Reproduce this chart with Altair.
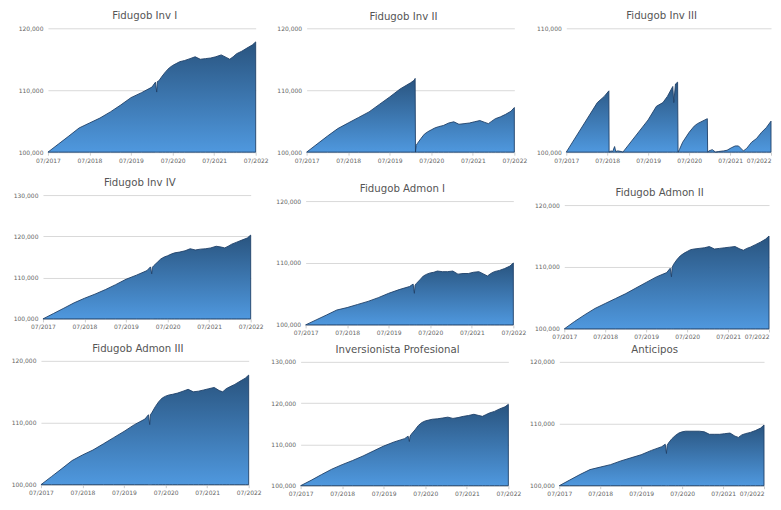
import altair as alt
import pandas as pd

# ---------------- data ----------------
dates_common = [
    "2017-07-01", "2017-10-01", "2018-01-01", "2018-04-01", "2018-07-01", "2018-10-01",
    "2019-01-01", "2019-04-01", "2019-07-01", "2019-10-01", "2020-01-01", "2020-02-01",
    "2020-02-12", "2020-02-18", "2020-03-01", "2020-04-01", "2020-05-01", "2020-06-01",
    "2020-07-01", "2020-08-01", "2020-09-01", "2020-10-15", "2020-12-01", "2021-01-15",
    "2021-03-01", "2021-04-15", "2021-06-01", "2021-07-15", "2021-09-01", "2021-10-15",
    "2021-11-15", "2021-12-15", "2022-01-15", "2022-03-01", "2022-04-15", "2022-06-01",
    "2022-07-01",
]

inv1_values = [100000, 101300, 102600, 103900, 104700, 105500, 106500, 107600, 108800, 109600,
               110500, 111300, 109700, 111400, 111500, 112300, 113000, 113600, 114000, 114300,
               114600, 114800, 115100, 115400, 115000, 115100, 115200, 115400, 115700, 115300,
               115000, 115400, 115900, 116300, 116800, 117300, 117800]

inv4_values = [100000, 101300, 102600, 103900, 105000, 106000, 107100, 108300, 109600, 110600,
               111700, 112600, 110900, 112500, 112900, 113700, 114500, 115000, 115300, 115700,
               116000, 116200, 116500, 117000, 116700, 116900, 117000, 117200, 117600, 117400,
               117200, 117600, 118100, 118600, 119100, 119600, 120300]

admon1_values = [100000, 100800, 101600, 102400, 102800, 103300, 103800, 104400, 105100, 105700,
                 106200, 106600, 105100, 106400, 106700, 107300, 107900, 108200, 108400, 108500,
                 108700, 108600, 108600, 108700, 108200, 108300, 108300, 108500, 108600, 108200,
                 107900, 108300, 108600, 108800, 109100, 109500, 110000]

admon2_values = [100000, 101200, 102300, 103300, 104100, 104900, 105700, 106600, 107500, 108400,
                 109100, 109800, 108400, 109900, 110400, 111200, 111800, 112200, 112500, 112800,
                 112900, 113000, 113100, 113300, 112900, 113000, 113100, 113200, 113300, 112900,
                 112700, 113000, 113200, 113600, 114000, 114500, 115000]

admon3_values = [100000, 101300, 102600, 103900, 104800, 105600, 106600, 107600, 108600, 109700,
                 110600, 111300, 109700, 111300, 111600, 112600, 113400, 114000, 114300, 114500,
                 114600, 114800, 115100, 115400, 115000, 115100, 115300, 115500, 115700, 115200,
                 115000, 115500, 115800, 116200, 116700, 117200, 117700]

invprof_values = [100000, 101300, 102700, 104000, 105100, 106100, 107200, 108400, 109600, 110600,
                  111400, 112000, 110700, 112000, 112500, 113500, 114600, 115300, 115700, 115900,
                  116100, 116200, 116400, 116600, 116300, 116500, 116800, 117000, 117300, 117000,
                  116800, 117200, 117600, 118000, 118600, 119100, 119700]

anticipos_values = [100000, 100900, 101800, 102600, 103000, 103400, 104000, 104500, 105000, 105700,
                    106300, 106700, 105200, 106500, 106900, 107600, 108100, 108500, 108700, 108800,
                    108800, 108800, 108800, 108700, 108300, 108300, 108300, 108400, 108500, 108000,
                    107800, 108200, 108400, 108600, 108900, 109300, 109800]

inv2_dates = [
    "2017-07-01", "2017-10-01", "2018-01-01", "2018-04-01", "2018-07-01", "2018-10-01",
    "2019-01-01", "2019-04-01", "2019-07-01", "2019-10-01", "2020-01-01", "2020-02-01",
    "2020-02-10", "2020-02-13", "2020-02-19", "2020-03-01", "2020-04-01", "2020-05-01",
    "2020-06-01", "2020-07-01", "2020-08-01", "2020-09-01", "2020-10-15", "2020-12-01",
    "2021-01-15", "2021-03-01", "2021-04-15", "2021-06-01", "2021-07-15", "2021-09-01",
    "2021-10-15", "2021-11-15", "2021-12-15", "2022-01-15", "2022-03-01", "2022-04-15",
    "2022-06-01", "2022-07-01",
]
inv2_values = [100000, 101300, 102600, 103800, 104700, 105600, 106500, 107700, 108900, 110200,
               111200, 111600, 111900, 100000, 101100, 101400, 102200, 102900, 103300, 103600,
               103900, 104100, 104300, 104700, 104900, 104500, 104600, 104700, 104900, 105100,
               104800, 104600, 105000, 105400, 105700, 106100, 106600, 107200]

inv3_dates = [
    "2017-07-01", "2018-04-04", "2018-06-05", "2018-07-16", "2018-07-18", "2018-08-04",
    "2018-08-19", "2018-09-05", "2018-09-15", "2018-10-03", "2018-11-02", "2018-11-18",
    "2019-07-01", "2019-09-13", "2019-11-10", "2019-12-20", "2020-02-06", "2020-02-15",
    "2020-03-01", "2020-03-20", "2020-03-24", "2020-04-05", "2020-05-04", "2020-07-01",
    "2020-08-15", "2020-09-13", "2020-12-10", "2020-12-13", "2020-12-25", "2021-01-23",
    "2021-02-21", "2021-03-22", "2021-05-05", "2021-06-04", "2021-07-12", "2021-08-16",
    "2021-09-14", "2021-10-28", "2021-11-26", "2022-01-09", "2022-02-22", "2022-04-08",
    "2022-05-22", "2022-07-01",
]
inv3_values = [100000, 104000, 104500, 104950, 100000, 100100, 100050, 100450, 100050, 100100,
               100050, 100000, 102600, 103700, 104000, 104500, 105300, 104000, 105500, 105650,
               100000, 100200, 100800, 101600, 102100, 102300, 102700, 100000, 100100, 100200,
               100000, 100050, 100100, 100150, 100350, 100500, 100500, 100100, 100300, 100800,
               101100, 101600, 102000, 102500]

years_ticks = [2017, 2018, 2019, 2020, 2021, 2022]
base_value = 100000

# ---------------- styling ----------------
FONT = "DejaVu Sans"
PLOT_H = 124
fill_gradient = alt.Gradient(
    gradient="linear",
    stops=[alt.GradientStop(color="#4f98de", offset=0),
           alt.GradientStop(color="#29547f", offset=1)],
    x1=1, x2=1, y1=1, y2=0,
)


def panel(title, dates, values, ymax, title_offset, width=208, extent=31, flush_last=False):
    df = pd.DataFrame({"date": dates, "value": values})
    yticks = list(range(base_value, ymax + 1, 10000))
    x_values = [alt.DateTime(year=y, month=7, date=1, utc=True) for y in years_ticks]
    label_align = "center"
    if flush_last:
        label_align = {"condition": {"test": "datum.value >= utc(2022, 5, 1)", "value": "right"},
                       "value": "center"}
    return alt.Chart(df).mark_area(
        fill=fill_gradient, stroke="#1f4169", strokeWidth=0.9, interpolate="linear"
    ).encode(
        x=alt.X("date:T", title=None,
                scale=alt.Scale(type="utc",
                                domain=[alt.DateTime(year=2017, month=7, date=1, utc=True),
                                        alt.DateTime(year=2022, month=7, date=1, utc=True)]),
                axis=alt.Axis(values=x_values, format="%m/%Y", labelFlush=False,
                              labelAlign=label_align,
                              grid=False, ticks=True, tickSize=3, tickColor="#cccccc",
                              labelPadding=2, domain=True, domainColor="#d9d9d9",
                              labelColor="#666666")),
        y=alt.Y("value:Q", title=None,
                scale=alt.Scale(domain=[base_value, ymax], zero=False, nice=False),
                axis=alt.Axis(values=yticks, format=",d", grid=True, gridColor="#d9d9d9",
                              ticks=False, tickSize=0, domain=False, labelPadding=5,
                              minExtent=extent, labelColor="#666666")),
        y2=alt.datum(base_value),
    ).properties(
        width=width, height=PLOT_H,
        title=alt.TitleParams(title, fontSize=10.2, font=FONT, color="#555555",
                              fontWeight="normal", offset=title_offset, dx=-7, anchor="middle"),
    )


def spacer(w):
    return alt.Chart(pd.DataFrame({"s": [0]})).mark_point(size=0, opacity=0).encode(
        x=alt.value(0), y=alt.value(0)
    ).properties(width=w, height=1)


def wrap(c, w):
    return alt.hconcat(spacer(w), c, spacing=0)


p1 = panel("Fidugob Inv I", dates_common, inv1_values, 120000, 4)
p2 = panel("Fidugob Inv II", inv2_dates, inv2_values, 120000, 3)
p3 = panel("Fidugob Inv III", inv3_dates, inv3_values, 110000, 4, 205, 30, True)
p4 = panel("Fidugob Inv IV", dates_common, inv4_values, 130000, 4)
p5 = panel("Fidugob Admon I", dates_common, admon1_values, 120000, 4)
p6 = panel("Fidugob Admon II", dates_common, admon2_values, 120000, 4, 205, 30, True)
p7 = panel("Fidugob Admon III", dates_common, admon3_values, 120000, 4)
p8 = panel("Inversionista Profesional", dates_common, invprof_values, 130000, 4)
p9 = panel("Anticipos", dates_common, anticipos_values, 120000, 4, 205, 30, True)

col1 = alt.vconcat(alt.vconcat(wrap(p1, 9), wrap(p4, 4), spacing=14), wrap(p7, 2), spacing=13)
col2 = alt.vconcat(alt.vconcat(wrap(p2, 7), wrap(p5, 6), spacing=20), wrap(p8, 1), spacing=8)
col3 = alt.vconcat(alt.vconcat(wrap(p3, 8.5), wrap(p6, 6.5), spacing=24), wrap(p9, 1.5), spacing=4)

chart = alt.hconcat(col1, col2, col3, spacing=0).properties(
    padding={"top": 2, "left": 0, "right": 0, "bottom": 0}
).configure_view(
    stroke=None
).configure_axis(
    labelFont=FONT, labelFontSize=6
).configure_concat(spacing=0)

chart.save("out.html", embed_options={"renderer": "svg", "actions": False})
